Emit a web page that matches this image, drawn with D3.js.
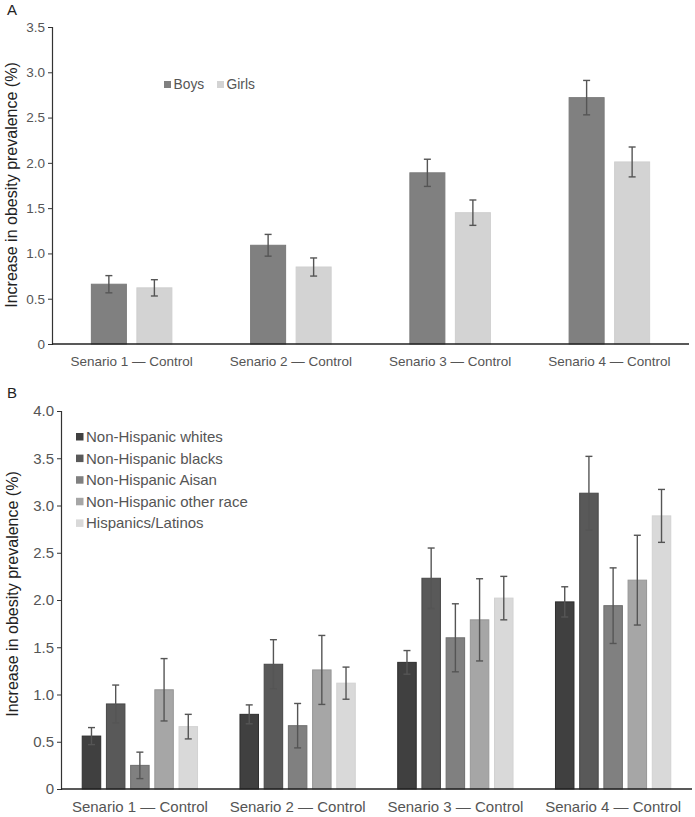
<!DOCTYPE html>
<html>
<head>
<meta charset="utf-8">
<script src="https://cdn.jsdelivr.net/npm/d3@7"></script>
<style>
  html, body { margin: 0; padding: 0; background: #fff; }
  svg { display: block; font-family: "Liberation Sans", Arial, Helvetica, sans-serif; }
</style>
</head>
<body>
<svg id="chart" width="695" height="817"></svg>
<script>
// ---------- Data ----------
const scenarios = ["Senario 1 \u2014 Control", "Senario 2 \u2014 Control", "Senario 3 \u2014 Control", "Senario 4 \u2014 Control"];

// Panel A
const sexSeries = ["Boys", "Girls"];
const boysValues = [0.66, 1.09, 1.89, 2.72];
const boysErrors = [0.095, 0.12, 0.15, 0.19];
const girlsValues = [0.62, 0.85, 1.45, 2.01];
const girlsErrors = [0.09, 0.10, 0.14, 0.165];
const ticksA = [0, 0.5, 1.0, 1.5, 2.0, 2.5, 3.0, 3.5];

// Panel B
const raceSeries = ["Non-Hispanic whites", "Non-Hispanic blacks", "Non-Hispanic Aisan", "Non-Hispanic other race", "Hispanics/Latinos"];
const whitesValues = [0.56, 0.79, 1.34, 1.98];
const whitesErrors = [0.09, 0.10, 0.125, 0.16];
const blacksValues = [0.90, 1.32, 2.23, 3.13];
const blacksErrors = [0.20, 0.26, 0.32, 0.39];
const asianValues = [0.25, 0.67, 1.60, 1.94];
const asianErrors = [0.14, 0.235, 0.36, 0.40];
const otherValues = [1.05, 1.26, 1.79, 2.21];
const otherErrors = [0.33, 0.365, 0.435, 0.475];
const hispanicValues = [0.66, 1.12, 2.02, 2.89];
const hispanicErrors = [0.13, 0.17, 0.23, 0.28];
const ticksB = [0, 0.5, 1.0, 1.5, 2.0, 2.5, 3.0, 3.5, 4.0];

// ---------- Build tables ----------
const dataA = scenarios.map((s, i) => ({
  scenario: s,
  values: [
    { key: "Boys", v: boysValues[i], e: boysErrors[i] },
    { key: "Girls", v: girlsValues[i], e: girlsErrors[i] }
  ]
}));
const raceVals = [whitesValues, blacksValues, asianValues, otherValues, hispanicValues];
const raceErrs = [whitesErrors, blacksErrors, asianErrors, otherErrors, hispanicErrors];
const dataB = scenarios.map((s, i) => ({
  scenario: s,
  values: raceSeries.map((r, k) => ({ key: r, v: raceVals[k][i], e: raceErrs[k][i] }))
}));

const svg = d3.select("#chart");
const fmt = d => d === 0 ? "0" : d3.format(".1f")(d);

function panel(opts) {
  const { data, series, colors, strokes, ticks, domainMax, x0r, yr, fs, titleX, titleY, xLabelY, pi, po, label, labelY, errW, tickLabelColor } = opts;
  const g = svg.append("g");
  const x0 = d3.scaleBand().domain(scenarios).range(x0r).paddingInner(0).paddingOuter(0);
  const x1 = d3.scaleBand().domain(series).range([0, x0.bandwidth()]).paddingInner(pi).paddingOuter(po);
  const y = d3.scaleLinear().domain([0, domainMax]).range(yr);
  const color = d3.scaleOrdinal().domain(series).range(colors);
  const stroke = d3.scaleOrdinal().domain(series).range(strokes);

  // y axis
  const yAxis = g.append("g")
    .attr("transform", `translate(${x0r[0]},0)`)
    .call(d3.axisLeft(y).tickValues(ticks).tickFormat(fmt).tickSize(4).tickPadding(3));
  yAxis.select(".domain").attr("stroke", "#333").attr("stroke-width", 1.2);
  yAxis.selectAll(".tick line").attr("stroke", "#333");
  yAxis.selectAll("text").attr("font-size", fs + "px").attr("fill", tickLabelColor).attr("font-family", "Liberation Sans, Arial, sans-serif");

  // groups
  const groups = g.selectAll(".grp").data(data).join("g")
    .attr("transform", d => `translate(${x0(d.scenario)},0)`);
  groups.selectAll("rect").data(d => d.values).join("rect")
    .attr("x", d => x1(d.key))
    .attr("y", d => y(d.v))
    .attr("width", x1.bandwidth())
    .attr("height", d => y(0) - y(d.v))
    .attr("fill", d => color(d.key))
    .attr("stroke", d => stroke(d.key))
    .attr("stroke-width", 1);

  // error bars
  const eb = groups.selectAll(".eb").data(d => d.values).join("g").attr("class", "eb");
  eb.append("line")
    .attr("x1", d => x1(d.key) + x1.bandwidth() / 2)
    .attr("x2", d => x1(d.key) + x1.bandwidth() / 2)
    .attr("y1", d => y(d.v + d.e))
    .attr("y2", d => y(d.v - d.e))
    .attr("stroke", "#555").attr("stroke-width", 1.4);
  [1, -1].forEach(sgn => {
    eb.append("line")
      .attr("x1", d => x1(d.key) + x1.bandwidth() / 2 - errW / 2)
      .attr("x2", d => x1(d.key) + x1.bandwidth() / 2 + errW / 2)
      .attr("y1", d => y(d.v + sgn * d.e))
      .attr("y2", d => y(d.v + sgn * d.e))
      .attr("stroke", "#555").attr("stroke-width", 1.4);
  });

  // x axis line
  g.append("line")
    .attr("x1", x0r[0]).attr("x2", x0r[1])
    .attr("y1", y(0)).attr("y2", y(0))
    .attr("stroke", "#222").attr("stroke-width", 1.3);

  // x labels
  g.selectAll(".xl").data(scenarios).join("text")
    .attr("x", d => x0(d) + x0.bandwidth() / 2)
    .attr("y", xLabelY)
    .attr("text-anchor", "middle")
    .attr("font-size", fs + "px")
    .attr("fill", tickLabelColor)
    .text(d => d);

  // y title
  g.append("text")
    .attr("transform", `translate(${titleX},${titleY}) rotate(-90)`)
    .attr("text-anchor", "middle")
    .attr("font-size", "16px")
    .attr("fill", "#222")
    .text("Increase in obesity prevalence (%)");

  // panel label
  g.append("text").attr("x", 7).attr("y", labelY)
    .attr("font-size", "15px").attr("fill", "#222").text(label);

  return { color };
}

// Panel A
const pA = panel({
  data: dataA, series: sexSeries,
  colors: ["#808080", "#d3d3d3"], strokes: ["#7a7a7a", "#cfcfcf"],
  ticks: ticksA, domainMax: 3.5, x0r: [52, 689], yr: [344, 27], fs: 13.5,
  titleX: 17, titleY: 185, xLabelY: 366, pi: 0.2308, po: 0.865,
  label: "A", labelY: 15, errW: 7, tickLabelColor: "#555"
});
// Legend A
const legA = svg.append("g");
const legAPos = [164, 217];
sexSeries.forEach((s, i) => {
  legA.append("rect").attr("x", legAPos[i]).attr("y", 81).attr("width", 7).attr("height", 7)
    .attr("fill", pA.color(s));
  legA.append("text").attr("x", legAPos[i] + 9.5).attr("y", 89)
    .attr("font-size", "13.8px").attr("fill", "#555").text(s);
});

// Panel B
const pB = panel({
  data: dataB, series: raceSeries,
  colors: ["#404040", "#595959", "#808080", "#a6a6a6", "#d9d9d9"],
  strokes: ["#2e2e2e", "#474747", "#6e6e6e", "#979797", "#d2d2d2"],
  ticks: ticksB, domainMax: 4, x0r: [61, 692], yr: [789, 411], fs: 15,
  titleX: 18, titleY: 594, xLabelY: 812, pi: 0.2355, po: 0.877,
  label: "B", labelY: 398, errW: 7, tickLabelColor: "#555"
});
// Legend B
const legB = svg.append("g");
raceSeries.forEach((s, i) => {
  const yb = 442 + i * 21.6;
  legB.append("rect").attr("x", 76).attr("y", yb - 9).attr("width", 7.5).attr("height", 7.5)
    .attr("fill", pB.color(s));
  legB.append("text").attr("x", 86).attr("y", yb)
    .attr("font-size", "15px").attr("fill", "#555").text(s);
});
</script>
</body>
</html>
